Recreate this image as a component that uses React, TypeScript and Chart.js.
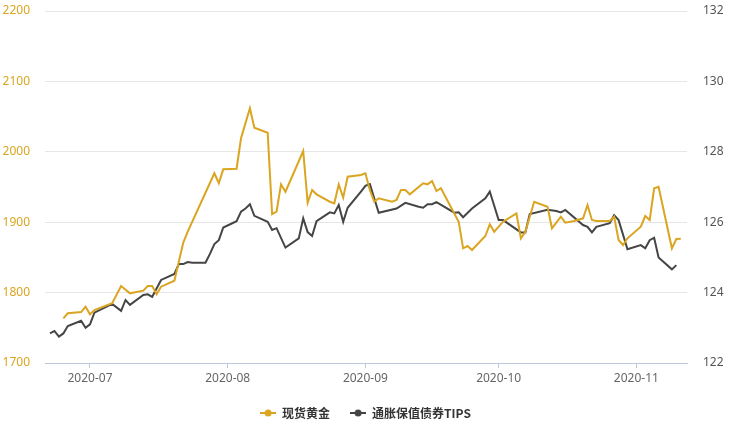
import React, { useEffect, useRef } from "react";
import { Chart, registerables } from "chart.js";

Chart.register(...registerables);

// ---------- data ----------
const goldDates = [
  "2020-06-25", "2020-06-26", "2020-06-29", "2020-06-30", "2020-07-01", "2020-07-02",
  "2020-07-06", "2020-07-08", "2020-07-10", "2020-07-13", "2020-07-14", "2020-07-15",
  "2020-07-16", "2020-07-17", "2020-07-20", "2020-07-22", "2020-07-23", "2020-07-29",
  "2020-07-30", "2020-07-31", "2020-08-03", "2020-08-04", "2020-08-06", "2020-08-07",
  "2020-08-10", "2020-08-11", "2020-08-12", "2020-08-13", "2020-08-14", "2020-08-18",
  "2020-08-19", "2020-08-20", "2020-08-21", "2020-08-24", "2020-08-25", "2020-08-26",
  "2020-08-27", "2020-08-28", "2020-08-31", "2020-09-01", "2020-09-02", "2020-09-03",
  "2020-09-04", "2020-09-07", "2020-09-08", "2020-09-09", "2020-09-10", "2020-09-11",
  "2020-09-14", "2020-09-15", "2020-09-16", "2020-09-17", "2020-09-18", "2020-09-22",
  "2020-09-23", "2020-09-24", "2020-09-25", "2020-09-28", "2020-09-29", "2020-09-30",
  "2020-10-02", "2020-10-05", "2020-10-06", "2020-10-07", "2020-10-09", "2020-10-12",
  "2020-10-13", "2020-10-15", "2020-10-16", "2020-10-18", "2020-10-20", "2020-10-21",
  "2020-10-22", "2020-10-23", "2020-10-26", "2020-10-27", "2020-10-28", "2020-10-29",
  "2020-10-30", "2020-11-02", "2020-11-03", "2020-11-04", "2020-11-05", "2020-11-06",
  "2020-11-09", "2020-11-10", "2020-11-11",
];
const goldValues = [
  1763.5, 1770.6, 1772.4, 1780.0, 1769.2, 1775.3,
  1784.8, 1809.4, 1799.0, 1802.7, 1809.4, 1809.4,
  1797.6, 1808.4, 1816.9, 1871.0, 1886.5, 1969.5,
  1955.3, 1975.1, 1976.0, 2019.2, 2061.8, 2034.2,
  2027.1, 1911.6, 1914.9, 1953.8, 1943.3, 2001.1,
  1927.7, 1945.7, 1939.6, 1929.1, 1926.8, 1953.8,
  1934.8, 1964.6, 1967.0, 1969.5, 1945.7, 1929.1,
  1934.0, 1929.1, 1931.5, 1945.7, 1945.7, 1939.6,
  1955.3, 1953.8, 1958.5, 1944.3, 1948.2, 1900.7,
  1862.9, 1866.2, 1860.5, 1880.4, 1897.0, 1886.5,
  1900.7, 1912.6, 1877.1, 1886.5, 1929.1, 1922.0,
  1891.3, 1907.8, 1899.3, 1901.7, 1905.5, 1924.4,
  1903.1, 1901.7, 1901.7, 1907.8, 1874.7, 1867.6,
  1877.1, 1893.6, 1908.8, 1903.1, 1948.2, 1950.4,
  1862.9, 1876.1, 1876.6,
];

const tipsDates = [
  "2020-06-22", "2020-06-23", "2020-06-24", "2020-06-25", "2020-06-26", "2020-06-29",
  "2020-06-30", "2020-07-01", "2020-07-02", "2020-07-06", "2020-07-08", "2020-07-09",
  "2020-07-10", "2020-07-13", "2020-07-14", "2020-07-15", "2020-07-17", "2020-07-20",
  "2020-07-21", "2020-07-22", "2020-07-23", "2020-07-24", "2020-07-27", "2020-07-28",
  "2020-07-29", "2020-07-30", "2020-07-31", "2020-08-03", "2020-08-04", "2020-08-05",
  "2020-08-06", "2020-08-07", "2020-08-10", "2020-08-11", "2020-08-12", "2020-08-14",
  "2020-08-17", "2020-08-18", "2020-08-19", "2020-08-20", "2020-08-21", "2020-08-24",
  "2020-08-25", "2020-08-26", "2020-08-27", "2020-08-28", "2020-08-31", "2020-09-01",
  "2020-09-02", "2020-09-04", "2020-09-08", "2020-09-10", "2020-09-13", "2020-09-14",
  "2020-09-15", "2020-09-16", "2020-09-17", "2020-09-21", "2020-09-22", "2020-09-23",
  "2020-09-25", "2020-09-28", "2020-09-29", "2020-10-01", "2020-10-02", "2020-10-06",
  "2020-10-07", "2020-10-08", "2020-10-12", "2020-10-14", "2020-10-15", "2020-10-16",
  "2020-10-20", "2020-10-21", "2020-10-22", "2020-10-23", "2020-10-26", "2020-10-27",
  "2020-10-28", "2020-10-30", "2020-11-02", "2020-11-03", "2020-11-04", "2020-11-05",
  "2020-11-06", "2020-11-09", "2020-11-10",
];
const tipsValues = [
  122.84, 122.91, 122.75, 122.84, 123.05, 123.20,
  123.00, 123.10, 123.43, 123.68, 123.48, 123.79,
  123.65, 123.93, 123.95, 123.88, 124.36, 124.53,
  124.81, 124.81, 124.87, 124.85, 124.85, 125.10,
  125.38, 125.49, 125.85, 126.03, 126.30, 126.39,
  126.51, 126.18, 126.01, 125.78, 125.83, 125.28,
  125.54, 126.11, 125.72, 125.61, 126.03, 126.28,
  126.25, 126.49, 126.01, 126.41, 126.87, 127.03,
  127.08, 126.27, 126.39, 126.55, 126.44, 126.41,
  126.51, 126.51, 126.57, 126.27, 126.28, 126.14,
  126.39, 126.68, 126.87, 126.06, 126.06, 125.71,
  125.71, 126.23, 126.35, 126.32, 126.28, 126.35,
  125.92, 125.87, 125.71, 125.87, 125.97, 126.20,
  126.06, 125.23, 125.35, 125.26, 125.49, 125.56,
  125.00, 124.66, 124.78,
];

const monthTickDates = ["2020-07-01", "2020-08-01", "2020-09-01", "2020-10-01", "2020-11-01"];
const monthTickLabels = ["2020-07", "2020-08", "2020-09", "2020-10", "2020-11"];
const seriesNames = ["现货黄金", "通胀保值债券TIPS"];

// ---------- helpers ----------
const BASE = Date.UTC(2020, 6, 1);
const dayOf = (s: string) =>
  (Date.UTC(+s.slice(0, 4), +s.slice(5, 7) - 1, +s.slice(8, 10)) - BASE) / 86400000;

const GOLD = "#DAA520";
const DARK = "#454545";

function makeIcon(color: string) {
  const c = document.createElement("canvas");
  c.width = 16;
  c.height = 10;
  const ctx = c.getContext("2d")!;
  ctx.strokeStyle = color;
  ctx.lineWidth = 2;
  ctx.beginPath();
  ctx.moveTo(0, 5);
  ctx.lineTo(16, 5);
  ctx.stroke();
  ctx.fillStyle = color;
  ctx.beginPath();
  ctx.arc(8, 5, 3.5, 0, Math.PI * 2);
  ctx.fill();
  return c;
}

export default function App() {
  const ref = useRef<HTMLCanvasElement>(null);

  useEffect(() => {
    if (!ref.current) return;
    const tickFont = { family: "'Noto Sans', sans-serif", size: 12 };
    const monthDays = monthTickDates.map(dayOf);
    const icons = [makeIcon(GOLD), makeIcon(DARK)];

    const chart = new Chart(ref.current, {
      type: "line",
      data: {
        datasets: [
          {
            label: seriesNames[0],
            data: goldDates.map((d, i) => ({ x: dayOf(d), y: goldValues[i] })),
            borderColor: GOLD,
            backgroundColor: GOLD,
            borderWidth: 2,
            pointRadius: 0,
            tension: 0,
            yAxisID: "y",
          },
          {
            label: seriesNames[1],
            data: tipsDates.map((d, i) => ({ x: dayOf(d), y: tipsValues[i] })),
            borderColor: DARK,
            backgroundColor: DARK,
            borderWidth: 2,
            pointRadius: 0,
            tension: 0,
            yAxisID: "y1",
          },
        ],
      },
      options: {
        responsive: false,
        animation: false,
        layout: { padding: { top: 11, bottom: -7, left: 0, right: 0 } },
        plugins: {
          tooltip: { enabled: false },
          legend: {
            position: "bottom",
            labels: {
              usePointStyle: true,
              pointStyleWidth: 16,
              boxHeight: 12,
              padding: 20,
              color: "#333",
              font: { family: "'Noto Sans CJK SC', sans-serif", size: 12, weight: "bold" },
              generateLabels: (ch: any) =>
                ch.data.datasets.map((ds: any, i: number) => ({
                  text: ds.label,
                  fillStyle: ds.borderColor,
                  strokeStyle: ds.borderColor,
                  lineWidth: 0,
                  pointStyle: icons[i],
                  hidden: false,
                  datasetIndex: i,
                  fontColor: "#333",
                })),
            },
          },
        },
        scales: {
          x: {
            type: "linear",
            min: -10.13,
            max: 134.4,
            afterBuildTicks: (scale: any) => {
              scale.ticks = monthDays.map((v) => ({ value: v }));
            },
            afterFit: (scale: any) => {
              scale.height = 24;
            },
            ticks: {
              autoSkip: false,
              maxRotation: 0,
              padding: 3,
              color: "#666",
              font: tickFont,
              callback: (v: any) => {
                const i = monthDays.indexOf(Number(v));
                return i >= 0 ? monthTickLabels[i] : "";
              },
            },
            grid: {
              drawOnChartArea: false,
              drawTicks: true,
              tickLength: 5,
              color: "#B9C8DC",
            },
            border: { color: "#B9C8DC", width: 1 },
          },
          y: {
            position: "left",
            min: 1700,
            max: 2200,
            afterFit: (scale: any) => {
              scale.width = 45;
            },
            ticks: {
              stepSize: 100,
              padding: 3,
              color: GOLD,
              font: tickFont,
              callback: (v: any) => String(v),
            },
            grid: { color: "#E6E6E6", drawTicks: true, tickLength: 12, tickColor: "rgba(0,0,0,0)" },
            border: { display: false },
          },
          y1: {
            position: "right",
            min: 122,
            max: 132,
            afterFit: (scale: any) => {
              scale.width = 44;
            },
            ticks: {
              stepSize: 2,
              padding: 3,
              color: "#555",
              font: tickFont,
              callback: (v: any) => String(v),
            },
            grid: { drawOnChartArea: false, drawTicks: true, tickLength: 13, tickColor: "rgba(0,0,0,0)" },
            border: { display: false },
          },
        },
      },
    } as any);

    return () => chart.destroy();
  }, []);

  return (
    <div style={{ position: "fixed", left: 0, top: 0, width: 731, height: 422, background: "#fff" }}>
      <canvas ref={ref} width={731} height={422} style={{ display: "block" }} />
    </div>
  );
}
